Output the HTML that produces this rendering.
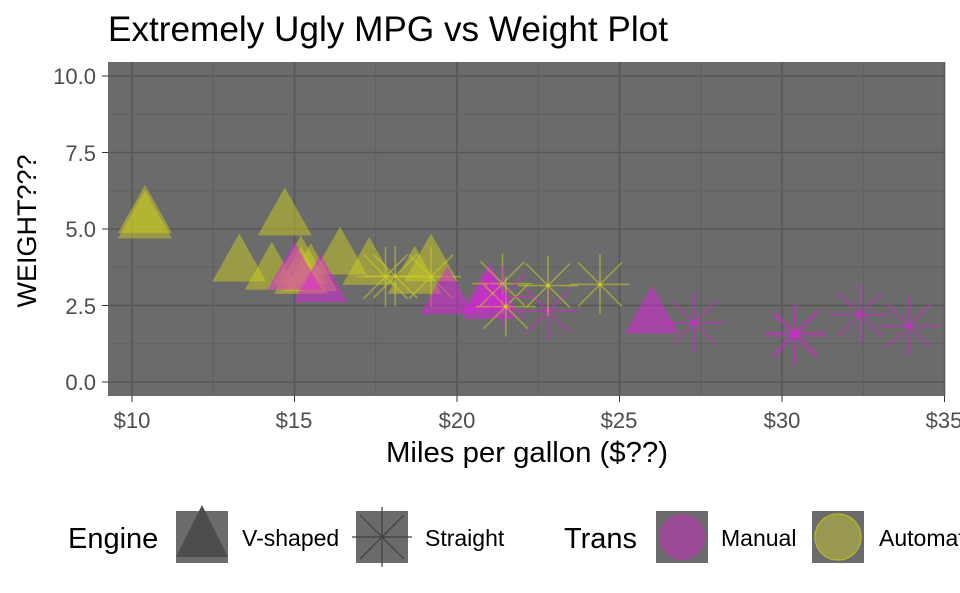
<!DOCTYPE html>
<html><head><meta charset="utf-8"><style>
html,body{margin:0;padding:0;background:#fff;width:960px;height:593px;overflow:hidden}
svg text{font-family:"Liberation Sans",Arial,sans-serif}
</style></head><body>
<svg id="s" width="960" height="593" xmlns="http://www.w3.org/2000/svg">
<rect x="108" y="62" width="837" height="334" fill="#6b6b6b"/>
<g id="grid"></g>
<g id="pts"></g>
<text x="108" y="41" font-size="35" fill="#000" textLength="560" lengthAdjust="spacingAndGlyphs">Extremely Ugly MPG vs Weight Plot</text>
<g font-size="22" fill="#4d4d4d" text-anchor="end">
<text x="96" y="84">10.0</text><text x="96" y="161">7.5</text><text x="96" y="237">5.0</text><text x="96" y="314">2.5</text><text x="96" y="390">0.0</text>
</g>
<g font-size="22" fill="#4d4d4d" text-anchor="middle">
<text x="132" y="428">$10</text><text x="294" y="428">$15</text><text x="457" y="428">$20</text><text x="619" y="428">$25</text><text x="782" y="428">$30</text><text x="944" y="428">$35</text>
</g>
<text x="527" y="462" font-size="29" text-anchor="middle" textLength="282" lengthAdjust="spacingAndGlyphs">Miles per gallon ($??)</text>
<text transform="translate(36,231) rotate(-90)" font-size="27" text-anchor="middle">WEIGHT???</text>
<!-- legend -->
<text x="68" y="548" font-size="29">Engine</text>
<rect x="176" y="511" width="52" height="52" fill="#6b6b6b"/>
<polygon points="202,505 176,557 228,557" fill="#4d4d4d"/>
<text x="242" y="546" font-size="23">V-shaped</text>
<rect x="356" y="511" width="52" height="52" fill="#6b6b6b"/>
<g stroke="#404040" stroke-width="1.2"><line x1="382" y1="507" x2="382" y2="567"/><line x1="352" y1="537" x2="412" y2="537"/><line x1="360" y1="515" x2="404" y2="559"/><line x1="404" y1="515" x2="360" y2="559"/></g>
<text x="425" y="546" font-size="23">Straight</text>
<text x="564" y="548" font-size="29">Trans</text>
<rect x="656" y="511" width="52" height="52" fill="#6b6b6b"/>
<circle cx="682" cy="537" r="23" fill="#9b4a96" />
<text x="721" y="546" font-size="23">Manual</text>
<rect x="812" y="511" width="52" height="52" fill="#6b6b6b"/>
<circle cx="838" cy="537" r="23" fill="#989850" stroke="#b8b830" stroke-width="1.2"/>
<text x="879" y="546" font-size="23">Automatic</text>
</svg>
<script>
var NS="http://www.w3.org/2000/svg";
function el(p,t,a){var e=document.createElementNS(NS,t);for(var k in a)e.setAttribute(k,a[k]);p.appendChild(e);return e;}
var g=document.getElementById('grid');
function X(m){return 132+(m-10)*32.5;}function Y(w){return 382-w*30.6;}
for(var m=7.5;m<=35;m+=2.5){var x=X(m);if(x<108)continue;var maj=(m%5==0);el(g,'line',{x1:x,x2:x,y1:62,y2:396,stroke:maj?'#575757':'#616161','stroke-width':maj?1.6:1});if(maj)el(g,'line',{x1:x,x2:x,y1:396,y2:402,stroke:'#333','stroke-width':1});}
for(var w=0;w<=10;w+=1.25){var y=Y(w);var maj=(w%2.5==0);el(g,'line',{x1:108,x2:945,y1:y,y2:y,stroke:maj?'#575757':'#616161','stroke-width':maj?1.6:1});if(maj)el(g,'line',{x1:102,x2:108,y1:y,y2:y,stroke:'#333','stroke-width':1});}
var d=[[21,2.62,0,1],[21,2.875,0,1],[22.8,2.32,1,1],[21.4,3.215,1,0],[18.7,3.44,0,0],[18.1,3.46,1,0],[14.3,3.57,0,0],[24.4,3.19,1,0],[22.8,3.15,1,0],[19.2,3.44,1,0],[17.8,3.44,1,0],[16.4,4.07,0,0],[17.3,3.73,0,0],[15.2,3.78,0,0],[10.4,5.25,0,0],[10.4,5.424,0,0],[14.7,5.345,0,0],[32.4,2.2,1,1],[30.4,1.615,1,1],[33.9,1.835,1,1],[21.5,2.465,1,0],[15.5,3.52,0,0],[15.2,3.435,0,0],[13.3,3.84,0,0],[19.2,3.845,0,0],[27.3,1.935,1,1],[26,2.14,0,1],[30.4,1.513,1,1],[15.8,3.17,0,1],[19.7,2.77,0,1],[15,3.57,0,1],[21.4,2.78,1,1]];
var p=document.getElementById('pts');
d.forEach(function(r){var x=X(r[0]),y=Y(r[1]);var c=r[3]?'#e020e0':'#cccc22';
if(r[2]==0){el(p,'polygon',{points:(x)+','+(y-31)+' '+(x-27)+','+(y+17)+' '+(x+27)+','+(y+17),fill:c,'fill-opacity':0.5});}
else{var a=el(p,'g',{stroke:c,'stroke-opacity':0.55,'stroke-width':1.6});
el(a,'line',{x1:x-30,x2:x+30,y1:y,y2:y});el(a,'line',{x1:x,x2:x,y1:y-30,y2:y+30});
el(a,'line',{x1:x-22,x2:x+22,y1:y-22,y2:y+22});el(a,'line',{x1:x+22,x2:x-22,y1:y-22,y2:y+22});
el(p,'circle',{cx:x,cy:y,r:1.8,fill:c});}
});
</script>
</body></html>
